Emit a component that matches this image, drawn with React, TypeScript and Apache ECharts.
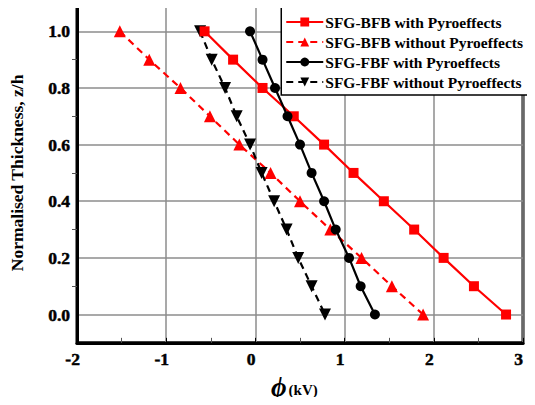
import React, { useEffect, useRef } from "react";
import * as echarts from "echarts";

const thickness = [1.0, 0.9, 0.8, 0.7, 0.6, 0.5, 0.4, 0.3, 0.2, 0.1, 0.0];
const bfbWith = [-0.57, -0.25, 0.08, 0.43, 0.77, 1.10, 1.44, 1.78, 2.11, 2.45, 2.81];
const bfbWithout = [-1.52, -1.19, -0.84, -0.51, -0.18, 0.17, 0.50, 0.84, 1.19, 1.53, 1.88];
const fbfWith = [-0.06, 0.08, 0.22, 0.36, 0.50, 0.63, 0.77, 0.90, 1.05, 1.18, 1.34];
const fbfWithout = [-0.62, -0.49, -0.34, -0.21, -0.06, 0.07, 0.21, 0.35, 0.48, 0.63, 0.78];

const seriesNames = [
  "SFG-BFB with Pyroeffects",
  "SFG-BFB without Pyroeffects",
  "SFG-FBF with Pyroeffects",
  "SFG-FBF without Pyroeffects",
];

const FONT = "Liberation Serif";

function pairs(xs: number[]) {
  return xs.map((x, i) => [x, thickness[i]]);
}

const tickRich = {
  b: {
    fontFamily: FONT,
    fontWeight: "bold",
    fontSize: 17.5,
    color: "#000",
    textBorderColor: "#000",
    textBorderWidth: 0.5,
  },
};

export default function App() {
  const ref = useRef<HTMLDivElement>(null);
  useEffect(() => {
    if (!ref.current) return;
    const chart = echarts.init(ref.current, undefined, { renderer: "svg" });
    const red = "#ff0000";
    const black = "#000000";
    chart.setOption({
      animation: false,
      backgroundColor: "#ffffff",
      grid: {
        left: 69,
        right: 5,
        top: 3,
        bottom: 59,
        show: true,
        borderColor: "#000",
        borderWidth: 3,
        backgroundColor: "transparent",
      },
      legend: {
        orient: "vertical",
        right: 6,
        top: 5,
        backgroundColor: "#fff",
        borderColor: "#000",
        borderWidth: 1.5,
        borderRadius: 0,
        padding: [9, 6, 5, 4],
        itemWidth: 37,
        itemHeight: 11,
        itemGap: 4,
        textStyle: {
          fontFamily: FONT,
          fontWeight: 700,
          fontSize: 15.5,
          color: "#000",
          lineHeight: 16,
          padding: [0, 0, 0, -3],
        },
        data: seriesNames,
      },
      xAxis: {
        type: "value",
        min: -2,
        max: 3,
        interval: 1,
        name: "{phi|\u03d5}{kv|(kV)}\u00a0\u00a0\u00a0",
        nameLocation: "middle",
        nameGap: 21,
        nameTextStyle: {
          fontFamily: FONT,
          fontWeight: 700,
          fontSize: 15,
          rich: {
            phi: {
              fontFamily: FONT,
              fontStyle: "italic",
              fontWeight: 700,
              fontSize: 27,
              color: "#000",
            },
            kv: {
              fontFamily: FONT,
              fontWeight: 700,
              fontSize: 15,
              color: "#000",
              padding: [6, 0, 0, 2],
            },
          },
        },
        axisLine: { show: true, onZero: false, lineStyle: { color: "#000", width: 3 } },
        axisTick: { show: true, inside: true, length: 5, lineStyle: { color: "#000", width: 1 } },
        minorTick: { show: true, splitNumber: 2, length: 5, lineStyle: { color: "#555", width: 1 } },
        axisLabel: {
          fontFamily: FONT,
          fontWeight: "bold",
          fontSize: 17.5,
          color: "#000",
          margin: 7,
          formatter: (v: number) => "{b|" + String(v) + "\u00a0\u00a0}",
          rich: tickRich,
        },
        splitLine: { show: true, lineStyle: { color: "#8c8c8c", width: 1.5 } },
      },
      yAxis: {
        type: "value",
        min: -0.1,
        max: 1.1,
        splitNumber: 6,
        name: "Normalised Thickness, z/h",
        nameLocation: "middle",
        nameGap: 51,
        nameTextStyle: {
          fontFamily: FONT,
          fontWeight: 700,
          fontSize: 17.5,
          color: "#000",
        },
        axisLine: { show: true, onZero: false, lineStyle: { color: "#000", width: 3 } },
        axisTick: { show: false },
        minorTick: { show: true, splitNumber: 2, length: 5, lineStyle: { color: "#555", width: 1 } },
        axisLabel: {
          fontFamily: FONT,
          fontWeight: "bold",
          fontSize: 17.5,
          color: "#000",
          margin: 7,
          showMinLabel: false,
          showMaxLabel: false,
          formatter: (v: number) => "{b|" + v.toFixed(1) + "}",
          rich: tickRich,
        },
        splitLine: { show: true, lineStyle: { color: "#8c8c8c", width: 1.5 } },
      },
      series: [
        {
          name: seriesNames[0],
          type: "line",
          data: pairs(bfbWith),
          symbol: "rect",
          symbolSize: 10,
          itemStyle: { color: red },
          lineStyle: { color: red, width: 2.2, type: "solid" },
          z: 4,
        },
        {
          name: seriesNames[1],
          type: "line",
          data: pairs(bfbWithout),
          symbol: "triangle",
          symbolSize: 12,
          itemStyle: { color: red },
          lineStyle: { color: red, width: 2.2, type: [7, 5] },
          z: 3,
        },
        {
          name: seriesNames[2],
          type: "line",
          data: pairs(fbfWith),
          symbol: "circle",
          symbolSize: 10,
          itemStyle: { color: black },
          lineStyle: { color: black, width: 2.2, type: "solid" },
          z: 5,
        },
        {
          name: seriesNames[3],
          type: "line",
          data: pairs(fbfWithout),
          symbol: "triangle",
          symbolRotate: 180,
          symbolSize: 12,
          itemStyle: { color: black },
          lineStyle: { color: black, width: 2.2, type: [7, 5] },
          z: 3,
        },
      ],
    });
    return () => chart.dispose();
  }, []);
  return <div ref={ref} style={{ width: 535, height: 405, margin: -8 }} />;
}
